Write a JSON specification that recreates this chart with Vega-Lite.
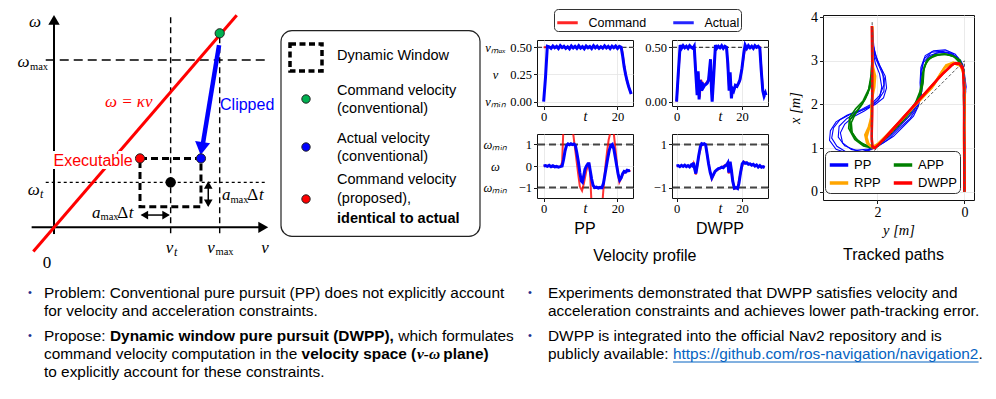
{
"$schema": "https://vega.github.io/schema/vega-lite/v6.json",
"padding": 0,
"background": "white",
"spacing": 1,
"config": {
  "view": {"stroke": null},
  "axis": {"labelFont": "Liberation Serif", "labelFontSize": 12.5, "labelColor": "#000", "tickColor": "#000", "tickSize": 3.5, "tickWidth": 0.9, "domain": false, "gridColor": "#e4e4e4", "gridWidth": 0.8, "titleFont": "Liberation Serif", "titleFontWeight": "normal", "titleColor": "#000", "titleFontSize": 14, "labelPadding": 2},
  "title": {"font": "Liberation Sans", "fontSize": 16, "fontWeight": "normal", "color": "#000"},
  "text": {"font": "Liberation Sans", "color": "#000"}
},
"datasets": {
  "ppv": [
    {"s":"Command","t":0,"v":0.5},{"s":"Command","t":5,"v":0.5},{"s":"Command","t":10,"v":0.5},{"s":"Command","t":15,"v":0.5},{"s":"Command","t":21,"v":0.5},{"s":"Command","t":21.3,"v":0.46},{"s":"Command","t":21.7,"v":0.36},{"s":"Command","t":22.1,"v":0.27},{"s":"Command","t":22.5,"v":0.2},{"s":"Command","t":22.9,"v":0.15},{"s":"Command","t":23.3,"v":0.11},{"s":"Command","t":23.7,"v":0.07},
    {"s":"Actual","t":0,"v":0},{"s":"Actual","t":0.5,"v":0.22},{"s":"Actual","t":1,"v":0.51},{"s":"Actual","t":1.5,"v":0.505},{"s":"Actual","t":2,"v":0.49},{"s":"Actual","t":2.5,"v":0.512},{"s":"Actual","t":3,"v":0.495},{"s":"Actual","t":3.5,"v":0.508},{"s":"Actual","t":4,"v":0.488},{"s":"Actual","t":4.5,"v":0.515},{"s":"Actual","t":5,"v":0.497},{"s":"Actual","t":5.5,"v":0.51},{"s":"Actual","t":6,"v":0.49},{"s":"Actual","t":6.5,"v":0.505},{"s":"Actual","t":7,"v":0.486},{"s":"Actual","t":7.5,"v":0.512},{"s":"Actual","t":8,"v":0.494},{"s":"Actual","t":8.5,"v":0.509},{"s":"Actual","t":9,"v":0.49},{"s":"Actual","t":9.5,"v":0.514},{"s":"Actual","t":10,"v":0.493},{"s":"Actual","t":10.5,"v":0.507},{"s":"Actual","t":11,"v":0.487},{"s":"Actual","t":11.5,"v":0.511},{"s":"Actual","t":12,"v":0.496},{"s":"Actual","t":12.5,"v":0.508},{"s":"Actual","t":13,"v":0.489},{"s":"Actual","t":13.5,"v":0.515},{"s":"Actual","t":14,"v":0.495},{"s":"Actual","t":14.5,"v":0.51},{"s":"Actual","t":15,"v":0.49},{"s":"Actual","t":15.5,"v":0.506},{"s":"Actual","t":16,"v":0.492},{"s":"Actual","t":16.5,"v":0.513},{"s":"Actual","t":17,"v":0.494},{"s":"Actual","t":17.5,"v":0.509},{"s":"Actual","t":18,"v":0.488},{"s":"Actual","t":18.5,"v":0.511},{"s":"Actual","t":19,"v":0.496},{"s":"Actual","t":19.5,"v":0.512},{"s":"Actual","t":20,"v":0.49},{"s":"Actual","t":20.5,"v":0.508},{"s":"Actual","t":21,"v":0.5},{"s":"Actual","t":21.4,"v":0.42},{"s":"Actual","t":21.8,"v":0.32},{"s":"Actual","t":22.2,"v":0.25},{"s":"Actual","t":22.6,"v":0.19},{"s":"Actual","t":23,"v":0.14},{"s":"Actual","t":23.4,"v":0.1},{"s":"Actual","t":23.7,"v":0.07}
  ],
  "ppw": [
    {"s":"Command","t":0,"w":0},{"s":"Command","t":1,"w":0.01},{"s":"Command","t":2,"w":-0.02},{"s":"Command","t":3,"w":-0.03},{"s":"Command","t":4,"w":-0.04},{"s":"Command","t":4.6,"w":-0.02},{"s":"Command","t":5,"w":0.17},{"s":"Command","t":5.3,"w":1.5},{"s":"Command","t":5.6,"w":2.5},{"s":"Command","t":7.7,"w":2.5},{"s":"Command","t":8,"w":1.5},{"s":"Command","t":8.7,"w":0.55},{"s":"Command","t":9.3,"w":-0.3},{"s":"Command","t":9.8,"w":-0.95},{"s":"Command","t":10.4,"w":-1.14},{"s":"Command","t":10.9,"w":-0.8},{"s":"Command","t":11.6,"w":-0.2},{"s":"Command","t":12.3,"w":0.15},{"s":"Command","t":12.6,"w":-0.4},{"s":"Command","t":12.9,"w":-1.5},{"s":"Command","t":13.2,"w":-2.5},{"s":"Command","t":15.7,"w":-2.5},{"s":"Command","t":16,"w":-1.5},{"s":"Command","t":16.4,"w":-0.6},{"s":"Command","t":16.8,"w":0.1},{"s":"Command","t":17.2,"w":0.7},{"s":"Command","t":17.6,"w":1.2},{"s":"Command","t":18,"w":1.5},{"s":"Command","t":18.5,"w":1.65},{"s":"Command","t":19,"w":1.5},{"s":"Command","t":19.5,"w":0.7},{"s":"Command","t":20,"w":-0.2},{"s":"Command","t":20.5,"w":-0.75},{"s":"Command","t":20.9,"w":-0.6},{"s":"Command","t":21.4,"w":-0.4},{"s":"Command","t":21.8,"w":-0.3},{"s":"Command","t":22.4,"w":-0.27},{"s":"Command","t":23,"w":-0.2},{"s":"Command","t":23.5,"w":-0.25},
    {"s":"Actual","t":0,"w":0},{"s":"Actual","t":0.5,"w":0.02},{"s":"Actual","t":1,"w":-0.02},{"s":"Actual","t":1.5,"w":0.03},{"s":"Actual","t":2,"w":-0.03},{"s":"Actual","t":2.5,"w":0.01},{"s":"Actual","t":3,"w":-0.04},{"s":"Actual","t":3.5,"w":-0.02},{"s":"Actual","t":4,"w":-0.05},{"s":"Actual","t":4.5,"w":-0.03},{"s":"Actual","t":5,"w":0},{"s":"Actual","t":5.4,"w":0.3},{"s":"Actual","t":5.8,"w":0.7},{"s":"Actual","t":6.2,"w":0.95},{"s":"Actual","t":6.6,"w":1.02},{"s":"Actual","t":7,"w":0.98},{"s":"Actual","t":7.4,"w":1.03},{"s":"Actual","t":7.8,"w":0.99},{"s":"Actual","t":8.2,"w":1.02},{"s":"Actual","t":8.6,"w":0.95},{"s":"Actual","t":9,"w":0.6},{"s":"Actual","t":9.4,"w":0.2},{"s":"Actual","t":9.8,"w":-0.3},{"s":"Actual","t":10.2,"w":-0.7},{"s":"Actual","t":10.5,"w":-0.75},{"s":"Actual","t":10.8,"w":-0.5},{"s":"Actual","t":11.2,"w":-0.15},{"s":"Actual","t":11.6,"w":0},{"s":"Actual","t":12,"w":0.1},{"s":"Actual","t":12.3,"w":0.1},{"s":"Actual","t":12.6,"w":-0.2},{"s":"Actual","t":13,"w":-0.6},{"s":"Actual","t":13.4,"w":-0.9},{"s":"Actual","t":13.8,"w":-1.0},{"s":"Actual","t":14.3,"w":-0.98},{"s":"Actual","t":14.8,"w":-1.02},{"s":"Actual","t":15.3,"w":-0.99},{"s":"Actual","t":15.8,"w":-1.0},{"s":"Actual","t":16.2,"w":-0.8},{"s":"Actual","t":16.6,"w":-0.4},{"s":"Actual","t":17,"w":0},{"s":"Actual","t":17.4,"w":0.4},{"s":"Actual","t":17.8,"w":0.75},{"s":"Actual","t":18.2,"w":0.95},{"s":"Actual","t":18.6,"w":1.0},{"s":"Actual","t":19,"w":0.8},{"s":"Actual","t":19.4,"w":0.4},{"s":"Actual","t":19.8,"w":0},{"s":"Actual","t":20.2,"w":-0.4},{"s":"Actual","t":20.6,"w":-0.65},{"s":"Actual","t":21,"w":-0.55},{"s":"Actual","t":21.4,"w":-0.35},{"s":"Actual","t":21.8,"w":-0.25},{"s":"Actual","t":22.2,"w":-0.28},{"s":"Actual","t":22.6,"w":-0.2},{"s":"Actual","t":23,"w":-0.22},{"s":"Actual","t":23.4,"w":-0.2}
  ],
  "dwv": [
    {"s":"Command","t":0,"v":0},{"s":"Command","t":1.1,"v":0.5},{"s":"Command","t":5.4,"v":0.5},{"s":"Command","t":6.3,"v":0.08},{"s":"Command","t":6.7,"v":0.26},{"s":"Command","t":7.1,"v":0.04},{"s":"Command","t":7.5,"v":0.2},{"s":"Command","t":8.2,"v":0.14},{"s":"Command","t":9.8,"v":0.2},{"s":"Command","t":10.4,"v":0.37},{"s":"Command","t":10.9,"v":0.02},{"s":"Command","t":11.9,"v":0.5},{"s":"Command","t":15.3,"v":0.5},{"s":"Command","t":16.1,"v":0.12},{"s":"Command","t":16.4,"v":0.25},{"s":"Command","t":16.8,"v":0.05},{"s":"Command","t":17.5,"v":0.11},{"s":"Command","t":19.4,"v":0.19},{"s":"Command","t":21,"v":0.5},{"s":"Command","t":25.5,"v":0.5},{"s":"Command","t":26.4,"v":0.12},{"s":"Command","t":26.8,"v":0.06},{"s":"Command","t":27.2,"v":0.08},
    {"s":"Actual","t":0,"v":0},{"s":"Actual","t":0.5,"v":0.25},{"s":"Actual","t":1.1,"v":0.52},{"s":"Actual","t":1.5,"v":0.49},{"s":"Actual","t":2,"v":0.515},{"s":"Actual","t":2.5,"v":0.495},{"s":"Actual","t":3,"v":0.51},{"s":"Actual","t":3.5,"v":0.49},{"s":"Actual","t":4,"v":0.515},{"s":"Actual","t":4.5,"v":0.5},{"s":"Actual","t":5,"v":0.49},{"s":"Actual","t":5.4,"v":0.51},{"s":"Actual","t":5.8,"v":0.3},{"s":"Actual","t":6.3,"v":0.06},{"s":"Actual","t":6.6,"v":0.28},{"s":"Actual","t":6.9,"v":0.02},{"s":"Actual","t":7.2,"v":0.2},{"s":"Actual","t":7.5,"v":0.1},{"s":"Actual","t":7.8,"v":0.18},{"s":"Actual","t":8.2,"v":0.13},{"s":"Actual","t":8.6,"v":0.15},{"s":"Actual","t":9,"v":0.16},{"s":"Actual","t":9.4,"v":0.17},{"s":"Actual","t":9.8,"v":0.2},{"s":"Actual","t":10.2,"v":0.33},{"s":"Actual","t":10.4,"v":0.39},{"s":"Actual","t":10.7,"v":0.1},{"s":"Actual","t":10.9,"v":0},{"s":"Actual","t":11.4,"v":0.25},{"s":"Actual","t":11.9,"v":0.52},{"s":"Actual","t":12.3,"v":0.49},{"s":"Actual","t":12.8,"v":0.51},{"s":"Actual","t":13.3,"v":0.495},{"s":"Actual","t":13.8,"v":0.515},{"s":"Actual","t":14.3,"v":0.49},{"s":"Actual","t":14.8,"v":0.51},{"s":"Actual","t":15.3,"v":0.5},{"s":"Actual","t":15.7,"v":0.35},{"s":"Actual","t":16.1,"v":0.1},{"s":"Actual","t":16.4,"v":0.27},{"s":"Actual","t":16.8,"v":0.03},{"s":"Actual","t":17.1,"v":0.12},{"s":"Actual","t":17.5,"v":0.1},{"s":"Actual","t":18,"v":0.15},{"s":"Actual","t":18.5,"v":0.14},{"s":"Actual","t":19,"v":0.17},{"s":"Actual","t":19.4,"v":0.2},{"s":"Actual","t":20,"v":0.3},{"s":"Actual","t":20.6,"v":0.45},{"s":"Actual","t":21,"v":0.52},{"s":"Actual","t":21.5,"v":0.49},{"s":"Actual","t":22,"v":0.515},{"s":"Actual","t":22.5,"v":0.495},{"s":"Actual","t":23,"v":0.51},{"s":"Actual","t":23.5,"v":0.49},{"s":"Actual","t":24,"v":0.515},{"s":"Actual","t":24.5,"v":0.5},{"s":"Actual","t":25,"v":0.51},{"s":"Actual","t":25.5,"v":0.49},{"s":"Actual","t":25.9,"v":0.3},{"s":"Actual","t":26.4,"v":0.1},{"s":"Actual","t":26.8,"v":0.05},{"s":"Actual","t":27.2,"v":0.08},{"s":"Actual","t":27.4,"v":0.06}
  ],
  "dww": [
    {"s":"Command","t":0,"w":0},{"s":"Command","t":4.9,"w":0},{"s":"Command","t":5.2,"w":0.12},{"s":"Command","t":5.9,"w":-0.4},{"s":"Command","t":6.8,"w":0.45},{"s":"Command","t":7.7,"w":1.0},{"s":"Command","t":8.9,"w":1.0},{"s":"Command","t":9.8,"w":0.1},{"s":"Command","t":10.8,"w":-0.6},{"s":"Command","t":11.8,"w":-0.25},{"s":"Command","t":13.8,"w":-0.06},{"s":"Command","t":15.7,"w":0.12},{"s":"Command","t":16,"w":-0.35},{"s":"Command","t":16.4,"w":0.18},{"s":"Command","t":17.2,"w":-0.7},{"s":"Command","t":17.7,"w":-1.05},{"s":"Command","t":18.7,"w":-1.0},{"s":"Command","t":19.6,"w":-0.3},{"s":"Command","t":20.5,"w":0.2},{"s":"Command","t":23,"w":0.05},{"s":"Command","t":27,"w":-0.05},
    {"s":"Actual","t":0,"w":0},{"s":"Actual","t":0.5,"w":0.02},{"s":"Actual","t":1,"w":-0.03},{"s":"Actual","t":1.5,"w":0.03},{"s":"Actual","t":2,"w":-0.02},{"s":"Actual","t":2.5,"w":0.04},{"s":"Actual","t":3,"w":-0.03},{"s":"Actual","t":3.5,"w":0.02},{"s":"Actual","t":4,"w":-0.04},{"s":"Actual","t":4.5,"w":0.05},{"s":"Actual","t":4.9,"w":0},{"s":"Actual","t":5.2,"w":0.15},{"s":"Actual","t":5.5,"w":-0.1},{"s":"Actual","t":5.9,"w":-0.35},{"s":"Actual","t":6.3,"w":0},{"s":"Actual","t":6.8,"w":0.5},{"s":"Actual","t":7.3,"w":0.9},{"s":"Actual","t":7.7,"w":1.03},{"s":"Actual","t":8.1,"w":1.0},{"s":"Actual","t":8.5,"w":1.03},{"s":"Actual","t":8.9,"w":0.98},{"s":"Actual","t":9.3,"w":0.6},{"s":"Actual","t":9.8,"w":0.1},{"s":"Actual","t":10.3,"w":-0.3},{"s":"Actual","t":10.8,"w":-0.55},{"s":"Actual","t":11.3,"w":-0.4},{"s":"Actual","t":11.8,"w":-0.25},{"s":"Actual","t":12.3,"w":-0.18},{"s":"Actual","t":12.8,"w":-0.12},{"s":"Actual","t":13.3,"w":-0.1},{"s":"Actual","t":13.8,"w":-0.05},{"s":"Actual","t":14.3,"w":-0.08},{"s":"Actual","t":14.8,"w":0},{"s":"Actual","t":15.3,"w":0.05},{"s":"Actual","t":15.7,"w":0.15},{"s":"Actual","t":16,"w":-0.3},{"s":"Actual","t":16.4,"w":0.2},{"s":"Actual","t":16.8,"w":-0.2},{"s":"Actual","t":17.2,"w":-0.7},{"s":"Actual","t":17.7,"w":-1.03},{"s":"Actual","t":18.2,"w":-1.0},{"s":"Actual","t":18.7,"w":-1.04},{"s":"Actual","t":19.1,"w":-0.8},{"s":"Actual","t":19.6,"w":-0.3},{"s":"Actual","t":20.1,"w":0.1},{"s":"Actual","t":20.5,"w":0.18},{"s":"Actual","t":21,"w":0.12},{"s":"Actual","t":21.5,"w":0.15},{"s":"Actual","t":22,"w":0.08},{"s":"Actual","t":22.5,"w":0.1},{"s":"Actual","t":23,"w":0.04},{"s":"Actual","t":23.5,"w":0.08},{"s":"Actual","t":24,"w":0},{"s":"Actual","t":24.5,"w":0.05},{"s":"Actual","t":25,"w":-0.05},{"s":"Actual","t":25.5,"w":0.02},{"s":"Actual","t":26,"w":-0.06},{"s":"Actual","t":26.5,"w":-0.03},{"s":"Actual","t":27,"w":-0.06}
  ],
  "paths": [
    {"m":"PP","r":"PP1","y":0,"x":0},{"m":"PP","r":"PP1","y":0.01,"x":0.8},{"m":"PP","r":"PP1","y":0,"x":1.6},{"m":"PP","r":"PP1","y":0.02,"x":2.1},{"m":"PP","r":"PP1","y":-0.04,"x":2.4},{"m":"PP","r":"PP1","y":0,"x":2.7},{"m":"PP","r":"PP1","y":0.04,"x":2.92},{"m":"PP","r":"PP1","y":0.21,"x":3.15},{"m":"PP","r":"PP1","y":0.44,"x":3.25},{"m":"PP","r":"PP1","y":0.71,"x":3.23},{"m":"PP","r":"PP1","y":0.9,"x":3.12},{"m":"PP","r":"PP1","y":1.0,"x":2.85},{"m":"PP","r":"PP1","y":1.02,"x":2.5},{"m":"PP","r":"PP1","y":1.0,"x":2.19},{"m":"PP","r":"PP1","y":1.06,"x":1.96},{"m":"PP","r":"PP1","y":1.17,"x":1.73},{"m":"PP","r":"PP1","y":1.4,"x":1.5},{"m":"PP","r":"PP1","y":1.63,"x":1.27},{"m":"PP","r":"PP1","y":1.86,"x":1.12},{"m":"PP","r":"PP1","y":2.09,"x":1.0},{"m":"PP","r":"PP1","y":2.4,"x":0.88},{"m":"PP","r":"PP1","y":2.7,"x":0.9},{"m":"PP","r":"PP1","y":2.93,"x":1.04},{"m":"PP","r":"PP1","y":3.05,"x":1.23},{"m":"PP","r":"PP1","y":3.01,"x":1.46},{"m":"PP","r":"PP1","y":2.86,"x":1.65},{"m":"PP","r":"PP1","y":2.63,"x":1.77},{"m":"PP","r":"PP1","y":2.32,"x":1.88},{"m":"PP","r":"PP1","y":2.05,"x":2.0},{"m":"PP","r":"PP1","y":1.86,"x":2.15},{"m":"PP","r":"PP1","y":1.79,"x":2.38},{"m":"PP","r":"PP1","y":1.82,"x":2.65},{"m":"PP","r":"PP1","y":1.94,"x":2.88},{"m":"PP","r":"PP1","y":2.05,"x":3.15},{"m":"PP","r":"PP1","y":2.09,"x":3.35},{"m":"PP","r":"PP1","y":2.11,"x":3.73},
    {"m":"PP","r":"PP2","y":0,"x":0},{"m":"PP","r":"PP2","y":0,"x":1.0},{"m":"PP","r":"PP2","y":0.02,"x":1.8},{"m":"PP","r":"PP2","y":-0.03,"x":2.3},{"m":"PP","r":"PP2","y":0.01,"x":2.75},{"m":"PP","r":"PP2","y":0.08,"x":3.0},{"m":"PP","r":"PP2","y":0.3,"x":3.18},{"m":"PP","r":"PP2","y":0.55,"x":3.2},{"m":"PP","r":"PP2","y":0.8,"x":3.12},{"m":"PP","r":"PP2","y":0.95,"x":2.95},{"m":"PP","r":"PP2","y":1.0,"x":2.6},{"m":"PP","r":"PP2","y":0.98,"x":2.3},{"m":"PP","r":"PP2","y":1.04,"x":2.05},{"m":"PP","r":"PP2","y":1.2,"x":1.8},{"m":"PP","r":"PP2","y":1.45,"x":1.55},{"m":"PP","r":"PP2","y":1.7,"x":1.3},{"m":"PP","r":"PP2","y":1.95,"x":1.1},{"m":"PP","r":"PP2","y":2.2,"x":0.98},{"m":"PP","r":"PP2","y":2.5,"x":0.95},{"m":"PP","r":"PP2","y":2.75,"x":1.05},{"m":"PP","r":"PP2","y":2.9,"x":1.25},{"m":"PP","r":"PP2","y":2.88,"x":1.5},{"m":"PP","r":"PP2","y":2.7,"x":1.68},{"m":"PP","r":"PP2","y":2.45,"x":1.82},{"m":"PP","r":"PP2","y":2.2,"x":1.95},{"m":"PP","r":"PP2","y":1.98,"x":2.1},{"m":"PP","r":"PP2","y":1.85,"x":2.3},{"m":"PP","r":"PP2","y":1.84,"x":2.6},{"m":"PP","r":"PP2","y":1.95,"x":2.85},{"m":"PP","r":"PP2","y":2.06,"x":3.1},{"m":"PP","r":"PP2","y":2.1,"x":3.4},{"m":"PP","r":"PP2","y":2.11,"x":3.7},
    {"m":"PP","r":"PP3","y":0,"x":0},{"m":"PP","r":"PP3","y":0.02,"x":1.2},{"m":"PP","r":"PP3","y":-0.02,"x":2.0},{"m":"PP","r":"PP3","y":0.03,"x":2.5},{"m":"PP","r":"PP3","y":0.02,"x":2.85},{"m":"PP","r":"PP3","y":0.15,"x":3.08},{"m":"PP","r":"PP3","y":0.4,"x":3.2},{"m":"PP","r":"PP3","y":0.65,"x":3.18},{"m":"PP","r":"PP3","y":0.85,"x":3.05},{"m":"PP","r":"PP3","y":0.94,"x":2.8},{"m":"PP","r":"PP3","y":0.96,"x":2.45},{"m":"PP","r":"PP3","y":1.0,"x":2.2},{"m":"PP","r":"PP3","y":1.12,"x":1.95},{"m":"PP","r":"PP3","y":1.3,"x":1.7},{"m":"PP","r":"PP3","y":1.55,"x":1.45},{"m":"PP","r":"PP3","y":1.8,"x":1.2},{"m":"PP","r":"PP3","y":2.05,"x":1.02},{"m":"PP","r":"PP3","y":2.35,"x":0.92},{"m":"PP","r":"PP3","y":2.6,"x":0.97},{"m":"PP","r":"PP3","y":2.8,"x":1.12},{"m":"PP","r":"PP3","y":2.85,"x":1.35},{"m":"PP","r":"PP3","y":2.75,"x":1.55},{"m":"PP","r":"PP3","y":2.55,"x":1.72},{"m":"PP","r":"PP3","y":2.3,"x":1.85},{"m":"PP","r":"PP3","y":2.1,"x":1.98},{"m":"PP","r":"PP3","y":1.95,"x":2.15},{"m":"PP","r":"PP3","y":1.9,"x":2.4},{"m":"PP","r":"PP3","y":1.95,"x":2.7},{"m":"PP","r":"PP3","y":2.05,"x":2.95},{"m":"PP","r":"PP3","y":2.1,"x":3.25},{"m":"PP","r":"PP3","y":2.12,"x":3.6},{"m":"PP","r":"PP3","y":2.11,"x":3.75},
    {"m":"PP","r":"PP4","y":0,"x":0},{"m":"PP","r":"PP4","y":0,"x":1.5},{"m":"PP","r":"PP4","y":0.02,"x":2.2},{"m":"PP","r":"PP4","y":0,"x":2.6},{"m":"PP","r":"PP4","y":0.05,"x":2.9},{"m":"PP","r":"PP4","y":0.25,"x":3.12},{"m":"PP","r":"PP4","y":0.5,"x":3.22},{"m":"PP","r":"PP4","y":0.75,"x":3.2},{"m":"PP","r":"PP4","y":0.92,"x":3.05},{"m":"PP","r":"PP4","y":1.0,"x":2.75},{"m":"PP","r":"PP4","y":1.0,"x":2.4},{"m":"PP","r":"PP4","y":1.02,"x":2.15},{"m":"PP","r":"PP4","y":1.1,"x":1.9},{"m":"PP","r":"PP4","y":1.25,"x":1.68},{"m":"PP","r":"PP4","y":1.5,"x":1.45},{"m":"PP","r":"PP4","y":1.75,"x":1.2},{"m":"PP","r":"PP4","y":2.0,"x":1.03},{"m":"PP","r":"PP4","y":2.3,"x":0.9},{"m":"PP","r":"PP4","y":2.65,"x":0.87},{"m":"PP","r":"PP4","y":2.95,"x":0.97},{"m":"PP","r":"PP4","y":3.1,"x":1.18},{"m":"PP","r":"PP4","y":3.08,"x":1.4},{"m":"PP","r":"PP4","y":2.95,"x":1.6},{"m":"PP","r":"PP4","y":2.7,"x":1.75},{"m":"PP","r":"PP4","y":2.4,"x":1.87},{"m":"PP","r":"PP4","y":2.15,"x":2.0},{"m":"PP","r":"PP4","y":1.95,"x":2.2},{"m":"PP","r":"PP4","y":1.85,"x":2.45},{"m":"PP","r":"PP4","y":1.88,"x":2.75},{"m":"PP","r":"PP4","y":2.0,"x":3.0},{"m":"PP","r":"PP4","y":2.08,"x":3.3},{"m":"PP","r":"PP4","y":2.12,"x":3.8},
    {"m":"APP","r":"APP1","y":0,"x":0},{"m":"APP","r":"APP1","y":0.01,"x":1.5},{"m":"APP","r":"APP1","y":0,"x":2.4},{"m":"APP","r":"APP1","y":0.03,"x":2.75},{"m":"APP","r":"APP1","y":0.1,"x":3.02},{"m":"APP","r":"APP1","y":0.3,"x":3.13},{"m":"APP","r":"APP1","y":0.5,"x":3.15},{"m":"APP","r":"APP1","y":0.7,"x":3.12},{"m":"APP","r":"APP1","y":0.88,"x":2.98},{"m":"APP","r":"APP1","y":0.96,"x":2.72},{"m":"APP","r":"APP1","y":0.98,"x":2.45},{"m":"APP","r":"APP1","y":1.05,"x":2.15},{"m":"APP","r":"APP1","y":1.25,"x":1.82},{"m":"APP","r":"APP1","y":1.48,"x":1.55},{"m":"APP","r":"APP1","y":1.78,"x":1.27},{"m":"APP","r":"APP1","y":1.98,"x":1.07},{"m":"APP","r":"APP1","y":2.15,"x":1.03},{"m":"APP","r":"APP1","y":2.35,"x":1.1},{"m":"APP","r":"APP1","y":2.5,"x":1.22},{"m":"APP","r":"APP1","y":2.62,"x":1.42},{"m":"APP","r":"APP1","y":2.63,"x":1.65},{"m":"APP","r":"APP1","y":2.45,"x":1.88},{"m":"APP","r":"APP1","y":2.28,"x":2.12},{"m":"APP","r":"APP1","y":2.17,"x":2.38},{"m":"APP","r":"APP1","y":2.13,"x":2.73},{"m":"APP","r":"APP1","y":2.12,"x":3.2},{"m":"APP","r":"APP1","y":2.12,"x":3.78},
    {"m":"APP","r":"APP2","y":0,"x":0},{"m":"APP","r":"APP2","y":0,"x":1.2},{"m":"APP","r":"APP2","y":0.02,"x":2.2},{"m":"APP","r":"APP2","y":0,"x":2.6},{"m":"APP","r":"APP2","y":0.06,"x":2.92},{"m":"APP","r":"APP2","y":0.25,"x":3.1},{"m":"APP","r":"APP2","y":0.45,"x":3.16},{"m":"APP","r":"APP2","y":0.68,"x":3.14},{"m":"APP","r":"APP2","y":0.85,"x":3.03},{"m":"APP","r":"APP2","y":0.93,"x":2.8},{"m":"APP","r":"APP2","y":0.95,"x":2.5},{"m":"APP","r":"APP2","y":1.0,"x":2.25},{"m":"APP","r":"APP2","y":1.15,"x":1.95},{"m":"APP","r":"APP2","y":1.35,"x":1.7},{"m":"APP","r":"APP2","y":1.6,"x":1.45},{"m":"APP","r":"APP2","y":1.85,"x":1.2},{"m":"APP","r":"APP2","y":2.05,"x":1.05},{"m":"APP","r":"APP2","y":2.25,"x":1.05},{"m":"APP","r":"APP2","y":2.45,"x":1.17},{"m":"APP","r":"APP2","y":2.58,"x":1.35},{"m":"APP","r":"APP2","y":2.6,"x":1.58},{"m":"APP","r":"APP2","y":2.5,"x":1.8},{"m":"APP","r":"APP2","y":2.35,"x":2.0},{"m":"APP","r":"APP2","y":2.22,"x":2.25},{"m":"APP","r":"APP2","y":2.15,"x":2.55},{"m":"APP","r":"APP2","y":2.13,"x":2.9},{"m":"APP","r":"APP2","y":2.12,"x":3.4},{"m":"APP","r":"APP2","y":2.12,"x":3.75},
    {"m":"APP","r":"APP3","y":0,"x":0},{"m":"APP","r":"APP3","y":0.01,"x":1.8},{"m":"APP","r":"APP3","y":0.01,"x":2.5},{"m":"APP","r":"APP3","y":0.04,"x":2.85},{"m":"APP","r":"APP3","y":0.2,"x":3.08},{"m":"APP","r":"APP3","y":0.42,"x":3.15},{"m":"APP","r":"APP3","y":0.62,"x":3.13},{"m":"APP","r":"APP3","y":0.8,"x":3.06},{"m":"APP","r":"APP3","y":0.92,"x":2.88},{"m":"APP","r":"APP3","y":0.97,"x":2.6},{"m":"APP","r":"APP3","y":1.02,"x":2.3},{"m":"APP","r":"APP3","y":1.12,"x":2.05},{"m":"APP","r":"APP3","y":1.3,"x":1.78},{"m":"APP","r":"APP3","y":1.52,"x":1.52},{"m":"APP","r":"APP3","y":1.75,"x":1.28},{"m":"APP","r":"APP3","y":1.95,"x":1.1},{"m":"APP","r":"APP3","y":2.12,"x":1.0},{"m":"APP","r":"APP3","y":2.32,"x":1.05},{"m":"APP","r":"APP3","y":2.52,"x":1.2},{"m":"APP","r":"APP3","y":2.66,"x":1.45},{"m":"APP","r":"APP3","y":2.64,"x":1.7},{"m":"APP","r":"APP3","y":2.5,"x":1.9},{"m":"APP","r":"APP3","y":2.33,"x":2.08},{"m":"APP","r":"APP3","y":2.2,"x":2.35},{"m":"APP","r":"APP3","y":2.14,"x":2.7},{"m":"APP","r":"APP3","y":2.12,"x":3.1},{"m":"APP","r":"APP3","y":2.12,"x":3.6},
    {"m":"RPP","r":"RPP1","y":0,"x":0},{"m":"RPP","r":"RPP1","y":0,"x":1.5},{"m":"RPP","r":"RPP1","y":-0.01,"x":2.3},{"m":"RPP","r":"RPP1","y":0.02,"x":2.75},{"m":"RPP","r":"RPP1","y":0.1,"x":2.9},{"m":"RPP","r":"RPP1","y":0.28,"x":2.95},{"m":"RPP","r":"RPP1","y":0.45,"x":2.85},{"m":"RPP","r":"RPP1","y":0.6,"x":2.62},{"m":"RPP","r":"RPP1","y":0.75,"x":2.38},{"m":"RPP","r":"RPP1","y":1.0,"x":2.12},{"m":"RPP","r":"RPP1","y":1.4,"x":1.7},{"m":"RPP","r":"RPP1","y":1.8,"x":1.28},{"m":"RPP","r":"RPP1","y":2.0,"x":1.08},{"m":"RPP","r":"RPP1","y":2.12,"x":1.02},{"m":"RPP","r":"RPP1","y":2.24,"x":1.12},{"m":"RPP","r":"RPP1","y":2.28,"x":1.3},{"m":"RPP","r":"RPP1","y":2.2,"x":1.48},{"m":"RPP","r":"RPP1","y":2.14,"x":1.7},{"m":"RPP","r":"RPP1","y":2.13,"x":2.1},{"m":"RPP","r":"RPP1","y":2.07,"x":2.4},{"m":"RPP","r":"RPP1","y":2.05,"x":2.65},{"m":"RPP","r":"RPP1","y":2.1,"x":2.85},{"m":"RPP","r":"RPP1","y":2.12,"x":3.2},{"m":"RPP","r":"RPP1","y":2.12,"x":3.8},
    {"m":"RPP","r":"RPP2","y":0,"x":0},{"m":"RPP","r":"RPP2","y":0.01,"x":1.2},{"m":"RPP","r":"RPP2","y":0,"x":2.2},{"m":"RPP","r":"RPP2","y":0.02,"x":2.7},{"m":"RPP","r":"RPP2","y":0.08,"x":2.88},{"m":"RPP","r":"RPP2","y":0.25,"x":2.96},{"m":"RPP","r":"RPP2","y":0.42,"x":2.9},{"m":"RPP","r":"RPP2","y":0.55,"x":2.7},{"m":"RPP","r":"RPP2","y":0.7,"x":2.45},{"m":"RPP","r":"RPP2","y":0.95,"x":2.18},{"m":"RPP","r":"RPP2","y":1.35,"x":1.75},{"m":"RPP","r":"RPP2","y":1.75,"x":1.32},{"m":"RPP","r":"RPP2","y":1.98,"x":1.1},{"m":"RPP","r":"RPP2","y":2.1,"x":1.03},{"m":"RPP","r":"RPP2","y":2.2,"x":1.08},{"m":"RPP","r":"RPP2","y":2.25,"x":1.25},{"m":"RPP","r":"RPP2","y":2.2,"x":1.42},{"m":"RPP","r":"RPP2","y":2.15,"x":1.6},{"m":"RPP","r":"RPP2","y":2.13,"x":2.0},{"m":"RPP","r":"RPP2","y":2.1,"x":2.5},{"m":"RPP","r":"RPP2","y":2.12,"x":3.0},{"m":"RPP","r":"RPP2","y":2.12,"x":3.8},
    {"m":"DWPP","r":"DW1","y":0,"x":0},{"m":"DWPP","r":"DW1","y":0,"x":1.0},{"m":"DWPP","r":"DW1","y":0.01,"x":2.0},{"m":"DWPP","r":"DW1","y":0.02,"x":2.6},{"m":"DWPP","r":"DW1","y":0.04,"x":2.85},{"m":"DWPP","r":"DW1","y":0.1,"x":2.93},{"m":"DWPP","r":"DW1","y":0.2,"x":2.95},{"m":"DWPP","r":"DW1","y":0.3,"x":2.9},{"m":"DWPP","r":"DW1","y":0.6,"x":2.6},{"m":"DWPP","r":"DW1","y":1.0,"x":2.15},{"m":"DWPP","r":"DW1","y":1.4,"x":1.7},{"m":"DWPP","r":"DW1","y":1.8,"x":1.25},{"m":"DWPP","r":"DW1","y":2.0,"x":1.05},{"m":"DWPP","r":"DW1","y":2.07,"x":1.0},{"m":"DWPP","r":"DW1","y":2.12,"x":1.05},{"m":"DWPP","r":"DW1","y":2.13,"x":1.3},{"m":"DWPP","r":"DW1","y":2.12,"x":2.0},{"m":"DWPP","r":"DW1","y":2.12,"x":3.0},{"m":"DWPP","r":"DW1","y":2.13,"x":3.8},
    {"m":"DWPP","r":"DW2","y":0,"x":0},{"m":"DWPP","r":"DW2","y":0.01,"x":1.5},{"m":"DWPP","r":"DW2","y":0,"x":2.4},{"m":"DWPP","r":"DW2","y":0.03,"x":2.8},{"m":"DWPP","r":"DW2","y":0.12,"x":2.94},{"m":"DWPP","r":"DW2","y":0.25,"x":2.93},{"m":"DWPP","r":"DW2","y":0.5,"x":2.7},{"m":"DWPP","r":"DW2","y":0.9,"x":2.26},{"m":"DWPP","r":"DW2","y":1.3,"x":1.82},{"m":"DWPP","r":"DW2","y":1.7,"x":1.38},{"m":"DWPP","r":"DW2","y":1.95,"x":1.1},{"m":"DWPP","r":"DW2","y":2.05,"x":1.01},{"m":"DWPP","r":"DW2","y":2.11,"x":1.02},{"m":"DWPP","r":"DW2","y":2.13,"x":1.2},{"m":"DWPP","r":"DW2","y":2.12,"x":1.8},{"m":"DWPP","r":"DW2","y":2.12,"x":2.8},{"m":"DWPP","r":"DW2","y":2.12,"x":3.78}
  ]
},
"vconcat": [
  {
    "spacing": 1,
    "resolve": {"scale": {"color": "independent", "fill": "independent", "shape": "independent"}, "legend": {"color": "independent"}},
    "hconcat": [
      {
        "width": 279, "height": 270,
        "view": {"fill": "transparent", "stroke": null},
        "encoding": {
          "x": {"field": "v", "type": "quantitative", "scale": {"domain": [-0.326, 1.358], "nice": false, "zero": false}, "axis": null},
          "y": {"field": "w", "type": "quantitative", "scale": {"domain": [-0.255, 1.359], "nice": false, "zero": false}, "axis": null}
        },
        "layer": [
          {"data": {"values": [{"v": -0.05, "w": 1.0, "v2": 1.273, "w2": 1.0}]}, "mark": {"type": "rule", "color": "#000", "strokeWidth": 1.5, "strokeDash": [9, 5]}, "encoding": {"x2": {"field": "v2"}, "y2": {"field": "w2"}}},
          {"data": {"values": [{"v": 0.704, "w": -0.035, "v2": 0.704, "w2": 1.269}, {"v": 1.0, "w": -0.035, "v2": 1.0, "w2": 1.16}]}, "mark": {"type": "rule", "color": "#000", "strokeWidth": 1.4, "strokeDash": [6, 4]}, "encoding": {"x2": {"field": "v2"}, "y2": {"field": "w2"}}},
          {"data": {"values": [{"v": -0.05, "w": 0.269, "v2": 1.273, "w2": 0.269}]}, "mark": {"type": "rule", "color": "#000", "strokeWidth": 1.2, "strokeDash": [3, 3]}, "encoding": {"x2": {"field": "v2"}, "y2": {"field": "w2"}}},
          {"data": {"values": [{"v": 0, "w": -0.04, "v2": 0, "w2": 1.24}, {"v": -0.135, "w": 0, "v2": 1.263, "w2": 0}]}, "mark": {"type": "rule", "color": "#000", "strokeWidth": 2}, "encoding": {"x2": {"field": "v2"}, "y2": {"field": "w2"}}},
          {"data": {"values": [{"v": 0, "w": 1.24, "d": "up"}, {"v": 1.263, "w": 0, "d": "right"}]}, "mark": {"type": "point", "filled": true, "color": "#000", "size": 130, "opacity": 1}, "encoding": {"shape": {"field": "d", "type": "nominal", "scale": {"domain": ["up", "down", "left", "right"], "range": ["triangle-up", "triangle-down", "triangle-left", "triangle-right"]}, "legend": null}}},
          {"data": {"values": [{"v": -0.125, "w": -0.144, "v2": 1.103, "w2": 1.268}]}, "mark": {"type": "rule", "color": "#ff0000", "strokeWidth": 3}, "encoding": {"x2": {"field": "v2"}, "y2": {"field": "w2"}}},
          {"data": {"values": [{"v": 0.519, "w": 0.123, "v2": 0.887, "w2": 0.412}]}, "mark": {"type": "rect", "fillOpacity": 0, "stroke": "#000", "strokeWidth": 3, "strokeDash": [7, 4]}, "encoding": {"x2": {"field": "v2"}, "y2": {"field": "w2"}}},
          {"data": {"values": [{"v": 0.9963, "w": 1.089, "v2": 0.897, "w2": 0.49}]}, "mark": {"type": "rule", "color": "#0000ff", "strokeWidth": 4.5}, "encoding": {"x2": {"field": "v2"}, "y2": {"field": "w2"}}},
          {"data": {"values": [{"v": 0.891, "w": 0.471, "d": "down"}]}, "mark": {"type": "point", "filled": true, "color": "#0000ff", "size": 230, "opacity": 1, "angle": 8.8}, "encoding": {"shape": {"field": "d", "type": "nominal", "legend": null}}},
          {"data": {"values": [{"v": 0.53, "w": 0.0735, "v2": 0.69, "w2": 0.0735}, {"v": 0.931, "w": 0.13, "v2": 0.931, "w2": 0.26}]}, "mark": {"type": "rule", "color": "#000", "strokeWidth": 1.5}, "encoding": {"x2": {"field": "v2"}, "y2": {"field": "w2"}}},
          {"data": {"values": [{"v": 0.5455, "w": 0.0735, "d": "left"}, {"v": 0.6765, "w": 0.0735, "d": "right"}, {"v": 0.931, "w": 0.2534, "d": "up"}, {"v": 0.931, "w": 0.1447, "d": "down"}]}, "mark": {"type": "point", "filled": true, "color": "#000", "size": 75, "opacity": 1}, "encoding": {"shape": {"field": "d", "type": "nominal", "legend": null}}},
          {"data": {"values": [{"v": 1.0, "w": 1.16, "k": "cmd"}, {"v": 0.887, "w": 0.412, "k": "act"}, {"v": 0.519, "w": 0.412, "k": "prop"}]}, "mark": {"type": "circle", "size": 85, "stroke": "#222", "strokeWidth": 1, "opacity": 1}, "encoding": {"fill": {"field": "k", "type": "nominal", "scale": {"domain": ["cmd", "act", "prop"], "range": ["#00b050", "#0000ff", "#ff0000"]}, "legend": null}}},
          {"data": {"values": [{"v": 0.704, "w": 0.269}]}, "mark": {"type": "circle", "size": 110, "color": "#000", "opacity": 1}},
          {"data": {"values": [{"v": -0.115, "w": 1.225, "s": "ω"}, {"v": -0.184, "w": 0.988, "s": "ω"}, {"v": -0.122, "w": 0.223, "s": "ω"}, {"v": 0.697, "w": -0.124, "s": "v"}, {"v": 0.947, "w": -0.124, "s": "v"}, {"v": 1.273, "w": -0.124, "s": "v"}, {"v": 0.2555, "w": 0.0837, "s": "a"}, {"v": 1.04, "w": 0.193, "s": "a"}, {"v": 0.466, "w": 0.0837, "s": "t"}, {"v": 1.251, "w": 0.193, "s": "t"}]}, "mark": {"type": "text", "font": "Liberation Serif", "fontStyle": "italic", "fontSize": 17, "align": "center", "baseline": "middle"}, "encoding": {"text": {"field": "s"}}},
          {"data": {"values": [{"v": -0.145, "w": 0.958, "s": "max"}, {"v": 0.9747, "w": -0.148, "s": "max"}, {"v": 0.2806, "w": 0.06, "s": "max"}, {"v": 1.065, "w": 0.163, "s": "max"}]}, "mark": {"type": "text", "font": "Liberation Serif", "fontSize": 10.5, "align": "left", "baseline": "middle"}, "encoding": {"text": {"field": "s"}}},
          {"data": {"values": [{"v": -0.0845, "w": 0.199, "s": "t"}, {"v": 0.724, "w": -0.148, "s": "t"}]}, "mark": {"type": "text", "font": "Liberation Serif", "fontStyle": "italic", "fontSize": 12, "align": "left", "baseline": "middle"}, "encoding": {"text": {"field": "s"}}},
          {"data": {"values": [{"v": 0.382, "w": 0.0837, "s": "Δ"}, {"v": 1.167, "w": 0.193, "s": "Δ"}, {"v": -0.068, "w": -0.214, "s": "0"}]}, "mark": {"type": "text", "font": "Liberation Serif", "fontSize": 17, "align": "left", "baseline": "middle"}, "encoding": {"text": {"field": "s"}}},
          {"data": {"values": [{"v": 0.451, "w": 0.751, "s": "ω = κv"}]}, "mark": {"type": "text", "font": "Liberation Serif", "fontStyle": "italic", "fontSize": 17, "color": "#ff0000", "align": "center", "baseline": "middle"}, "encoding": {"text": {"field": "s"}}},
          {"data": {"values": [{"v": 1.002, "w": 0.731, "s": "Clipped"}]}, "mark": {"type": "text", "font": "Liberation Sans", "fontSize": 16, "color": "#0000ff", "align": "left", "baseline": "middle"}, "encoding": {"text": {"field": "s"}}},
          {"data": {"values": [{"v": 0.475, "w": 0.398, "s": "Executable"}]}, "mark": {"type": "text", "font": "Liberation Sans", "fontSize": 16, "color": "#ffffff", "stroke": "#ffffff", "strokeWidth": 6, "align": "right", "baseline": "middle"}, "encoding": {"text": {"field": "s"}}},
          {"data": {"values": [{"v": 0.475, "w": 0.398, "s": "Executable"}]}, "mark": {"type": "text", "font": "Liberation Sans", "fontSize": 16, "color": "#ff0000", "align": "right", "baseline": "middle"}, "encoding": {"text": {"field": "s"}}}
        ]
      },
      {
        "width": 197, "height": 237,
        "view": {"fill": "transparent", "stroke": null},
        "encoding": {
          "x": {"field": "px", "type": "quantitative", "scale": {"domain": [0, 197], "nice": false, "zero": false}, "axis": null},
          "y": {"field": "py", "type": "quantitative", "scale": {"domain": [0, 237], "reverse": true, "nice": false, "zero": false}, "axis": null}
        },
        "layer": [
          {"data": {"values": [{"px": 1, "py": 30.6, "px2": 200, "py2": 236.4}]}, "mark": {"type": "rect", "fillOpacity": 0, "stroke": "#222", "strokeWidth": 1.2, "cornerRadius": 11}, "encoding": {"x2": {"field": "px2"}, "y2": {"field": "py2"}}},
          {"data": {"values": [{"px": 10, "py": 44, "px2": 42, "py2": 71}]}, "mark": {"type": "rect", "fillOpacity": 0, "stroke": "#000", "strokeWidth": 3.5, "strokeDash": [6, 3.5]}, "encoding": {"x2": {"field": "px2"}, "y2": {"field": "py2"}}},
          {"data": {"values": [{"px": 26, "py": 99, "k": "cmd"}, {"px": 26, "py": 147, "k": "act"}, {"px": 26, "py": 199, "k": "prop"}]}, "mark": {"type": "circle", "size": 70, "stroke": "#222", "strokeWidth": 1, "opacity": 1}, "encoding": {"fill": {"field": "k", "type": "nominal", "scale": {"domain": ["cmd", "act", "prop"], "range": ["#00b050", "#0000ff", "#ff0000"]}, "legend": null}}},
          {"data": {"values": [{"px": 57, "py": 56, "s": "Dynamic Window"}, {"px": 57, "py": 91, "s": "Command velocity"}, {"px": 57, "py": 109, "s": "(conventional)"}, {"px": 57, "py": 139, "s": "Actual velocity"}, {"px": 57, "py": 157, "s": "(conventional)"}, {"px": 57, "py": 180, "s": "Command velocity"}, {"px": 57, "py": 199, "s": "(proposed),"}]}, "mark": {"type": "text", "font": "Liberation Sans", "fontSize": 14.5, "align": "left", "baseline": "middle"}, "encoding": {"text": {"field": "s"}}},
          {"data": {"values": [{"px": 57, "py": 219, "s": "identical to actual"}]}, "mark": {"type": "text", "font": "Liberation Sans", "fontSize": 14.5, "fontWeight": "bold", "align": "left", "baseline": "middle"}, "encoding": {"text": {"field": "s"}}}
        ]
      },
      {
        "columns": 3,
        "spacing": {"row": 9, "column": 9},
        "resolve": {"scale": {"color": "shared"}, "legend": {"color": "shared"}},
        "title": {"text": "Velocity profile", "orient": "bottom", "offset": 10, "anchor": "middle", "dx": 11},
        "concat": [
          {"width": 1, "height": 30, "view": {"fill": "transparent", "stroke": null}, "data": {"values": []}, "mark": {"type": "point", "opacity": 0}},
          {"width": 1, "height": 30, "view": {"fill": "transparent", "stroke": null}, "data": {"values": []}, "mark": {"type": "point", "opacity": 0}},
          {"width": 6, "height": 30, "view": {"fill": "transparent", "stroke": null}, "data": {"values": []}, "mark": {"type": "point", "opacity": 0}},
          {
            "width": 96, "height": 66,
            "view": {"stroke": "#111", "strokeWidth": 1},
            "layer": [
              {"data": {"values": [{"y": 0.5}]}, "mark": {"type": "rule", "color": "#111", "strokeWidth": 1, "strokeDash": [4, 2.5]},
               "encoding": {"y": {"field": "y", "type": "quantitative", "scale": {"domain": [-0.04, 0.567], "nice": false, "zero": false},
                 "axis": {"orient": "left", "values": [0, 0.25, 0.5], "labelExpr": "datum.value > 0.4 ? 'vₘₐₓ' : datum.value > 0.1 ? 'v' : 'vₘᵢₙ'", "offset": 42, "ticks": false, "tickSize": 0, "grid": false, "labelPadding": 0, "labelAlign": "center", "labelFontStyle": "italic", "labelFontSize": 12.5, "title": null}}}},
              {"data": {"name": "ppv"}, "transform": [{"filter": "datum.s === 'Command'"}], "mark": {"type": "line", "strokeWidth": 2, "opacity": 0.85, "clip": true},
               "encoding": {
                 "x": {"field": "t", "type": "quantitative", "scale": {"domain": [-1.8, 24.2], "nice": false, "zero": false}, "axis": {"values": [0, 20], "title": "t", "titleFontStyle": "italic", "titlePadding": -14, "grid": true, "labelPadding": 1}},
                 "y": {"field": "v", "type": "quantitative", "axis": {"orient": "left", "values": [0, 0.25, 0.5], "format": ".2f", "title": null, "grid": true}},
                 "color": {"field": "s", "type": "nominal", "scale": {"domain": ["Command", "Actual"], "range": ["#ff0000", "#0000ff"]},
                   "legend": {"orient": "none", "legendX": 17, "legendY": 9, "direction": "horizontal", "title": null, "symbolType": "stroke", "symbolStrokeWidth": 3, "symbolSize": 420, "symbolOpacity": 1, "labelFont": "Liberation Sans", "labelFontSize": 12.5, "labelColor": "#000", "strokeColor": "#333", "fillColor": "#fff", "cornerRadius": 4, "padding": 1.5, "columnPadding": 20, "labelOffset": 9}}
               }},
              {"data": {"name": "ppv"}, "transform": [{"filter": "datum.s === 'Actual'"}], "mark": {"type": "line", "strokeWidth": 3, "clip": true},
               "encoding": {
                 "x": {"field": "t", "type": "quantitative"},
                 "y": {"field": "v", "type": "quantitative", "axis": null},
                 "color": {"field": "s", "type": "nominal"}
               }}
            ],
            "resolve": {"axis": {"y": "independent"}}
          },
          {
            "width": 96, "height": 66,
            "view": {"stroke": "#111", "strokeWidth": 1},
            "layer": [
              {"data": {"values": [{"y": 0.5}]}, "mark": {"type": "rule", "color": "#111", "strokeWidth": 1, "strokeDash": [4, 2.5]},
               "encoding": {"y": {"field": "y", "type": "quantitative", "scale": {"domain": [-0.04, 0.567], "nice": false, "zero": false}, "axis": {"values": [0, 0.25, 0.5], "format": ".2f", "title": null, "grid": true}}}},
              {"data": {"name": "dwv"}, "transform": [{"filter": "datum.s === 'Command'"}], "mark": {"type": "line", "strokeWidth": 2, "opacity": 0.85, "clip": true},
               "encoding": {
                 "x": {"field": "t", "type": "quantitative", "scale": {"domain": [-1.4, 28], "nice": false, "zero": false}, "axis": {"values": [0, 20], "title": "t", "titleFontStyle": "italic", "titlePadding": -14, "grid": true, "labelPadding": 1}},
                 "y": {"field": "v", "type": "quantitative"},
                 "color": {"field": "s", "type": "nominal"}
               }},
              {"data": {"name": "dwv"}, "transform": [{"filter": "datum.s === 'Actual'"}], "mark": {"type": "line", "strokeWidth": 3, "clip": true},
               "encoding": {"x": {"field": "t", "type": "quantitative"}, "y": {"field": "v", "type": "quantitative"}, "color": {"field": "s", "type": "nominal"}}}
            ]
          },
          {"width": 1, "height": 1, "view": {"fill": "transparent", "stroke": null}, "data": {"values": []}, "mark": {"type": "point", "opacity": 0}},
          {
            "width": 96, "height": 64,
            "view": {"stroke": "#111", "strokeWidth": 1},
            "title": {"text": "PP", "orient": "bottom", "offset": 6, "anchor": "middle", "frame": "group"},
            "layer": [
              {"data": {"values": [{"y": 1}, {"y": -1}]}, "mark": {"type": "rule", "color": "#444", "strokeWidth": 2, "strokeDash": [7, 4]},
               "encoding": {"y": {"field": "y", "type": "quantitative", "scale": {"domain": [-1.48, 1.48], "nice": false, "zero": false},
                 "axis": {"orient": "left", "values": [-1, 0, 1], "labelExpr": "datum.value > 0.5 ? 'ωₘᵢₙ' : datum.value < -0.5 ? 'ωₘᵢₙ' : 'ω'", "offset": 42, "ticks": false, "tickSize": 0, "grid": false, "labelPadding": 0, "labelAlign": "center", "labelFontStyle": "italic", "labelFontSize": 12.5, "title": null}}}},
              {"data": {"name": "ppw"}, "transform": [{"filter": "datum.s === 'Command'"}], "mark": {"type": "line", "strokeWidth": 2, "opacity": 0.8, "clip": true},
               "encoding": {
                 "x": {"field": "t", "type": "quantitative", "scale": {"domain": [-1.8, 24.2], "nice": false, "zero": false}, "axis": {"values": [0, 20], "title": "t", "titleFontStyle": "italic", "titlePadding": -14, "grid": true, "labelPadding": 1}},
                 "y": {"field": "w", "type": "quantitative", "axis": {"orient": "left", "values": [-1, 0, 1], "title": null, "grid": true}},
                 "color": {"field": "s", "type": "nominal"}
               }},
              {"data": {"name": "ppw"}, "transform": [{"filter": "datum.s === 'Actual'"}], "mark": {"type": "line", "strokeWidth": 3, "clip": true},
               "encoding": {"x": {"field": "t", "type": "quantitative"}, "y": {"field": "w", "type": "quantitative", "axis": null}, "color": {"field": "s", "type": "nominal"}}}
            ],
            "resolve": {"axis": {"y": "independent"}}
          },
          {
            "width": 96, "height": 64,
            "view": {"stroke": "#111", "strokeWidth": 1},
            "title": {"text": "DWPP", "orient": "bottom", "offset": 6, "anchor": "middle", "frame": "group"},
            "layer": [
              {"data": {"values": [{"y": 1}, {"y": -1}]}, "mark": {"type": "rule", "color": "#444", "strokeWidth": 2, "strokeDash": [7, 4]},
               "encoding": {"y": {"field": "y", "type": "quantitative", "scale": {"domain": [-1.48, 1.48], "nice": false, "zero": false}, "axis": {"values": [-1, 0, 1], "title": null, "grid": true}}}},
              {"data": {"name": "dww"}, "transform": [{"filter": "datum.s === 'Command'"}], "mark": {"type": "line", "strokeWidth": 2, "opacity": 0.8, "clip": true},
               "encoding": {
                 "x": {"field": "t", "type": "quantitative", "scale": {"domain": [-1.4, 28], "nice": false, "zero": false}, "axis": {"values": [0, 20], "title": "t", "titleFontStyle": "italic", "titlePadding": -14, "grid": true, "labelPadding": 1}},
                 "y": {"field": "w", "type": "quantitative"},
                 "color": {"field": "s", "type": "nominal"}
               }},
              {"data": {"name": "dww"}, "transform": [{"filter": "datum.s === 'Actual'"}], "mark": {"type": "line", "strokeWidth": 3, "clip": true},
               "encoding": {"x": {"field": "t", "type": "quantitative"}, "y": {"field": "w", "type": "quantitative"}, "color": {"field": "s", "type": "nominal"}}}
            ]
          },
          {"width": 1, "height": 1, "view": {"fill": "transparent", "stroke": null}, "data": {"values": []}, "mark": {"type": "point", "opacity": 0}}
        ]
      },
      {
        "spacing": 0,
        "vconcat": [
          {"width": 1, "height": 9, "view": {"fill": "transparent", "stroke": null}, "data": {"values": []}, "mark": {"type": "point", "opacity": 0}},
          {
            "width": 151, "height": 185,
            "view": {"stroke": "#111", "strokeWidth": 1},
            "title": {"text": "Tracked paths", "orient": "bottom", "offset": 10, "anchor": "middle", "frame": "group", "dx": -5},
            "encoding": {
              "x": {"field": "y", "type": "quantitative", "scale": {"domain": [-0.22, 3.25], "reverse": true, "nice": false, "zero": false}, "axis": {"values": [2, 0], "title": "y [m]", "titleFontStyle": "italic", "titleFontSize": 14.5, "titlePadding": 4, "labelFontSize": 14, "grid": true}},
              "y": {"field": "x", "type": "quantitative", "scale": {"domain": [-0.19, 4.05], "nice": false, "zero": false}, "axis": {"values": [0, 1, 2, 3, 4], "title": "x [m]", "titleX": -28, "titleBaseline": "middle", "titleFontStyle": "italic", "titleFontSize": 14.5, "labelFontSize": 14, "grid": true}}
            },
            "layer": [
              {"data": {"name": "paths"}, "transform": [{"filter": "datum.m === 'PP'"}], "mark": {"type": "line", "strokeWidth": 1.1},
               "encoding": {"color": {"field": "m", "type": "nominal", "scale": {"domain": ["PP", "RPP", "APP", "DWPP"], "range": ["#0000ff", "#ffa500", "#008000", "#ff0000"]},
                 "legend": {"orient": "none", "legendX": 2, "legendY": 151, "columns": 2, "title": null, "symbolType": "stroke", "symbolStrokeWidth": 3.5, "symbolSize": 340, "symbolOpacity": 1, "labelFont": "Liberation Sans", "labelFontSize": 13, "labelColor": "#000", "strokeColor": "#333", "fillColor": "#fff", "cornerRadius": 5, "padding": 3, "columnPadding": 5, "rowPadding": 0, "labelOffset": 4}},
                 "detail": {"field": "r"}, "order": {"value": null}}},
              {"data": {"name": "paths"}, "transform": [{"filter": "datum.m === 'APP'"}], "mark": {"type": "line", "strokeWidth": 1.6},
               "encoding": {"color": {"field": "m", "type": "nominal"}, "detail": {"field": "r"}, "order": {"value": null}}},
              {"data": {"name": "paths"}, "transform": [{"filter": "datum.m === 'RPP'"}], "mark": {"type": "line", "strokeWidth": 2.4},
               "encoding": {"color": {"field": "m", "type": "nominal"}, "detail": {"field": "r"}, "order": {"value": null}}},
              {"data": {"name": "paths"}, "transform": [{"filter": "datum.m === 'DWPP'"}], "mark": {"type": "line", "strokeWidth": 2.4},
               "encoding": {"color": {"field": "m", "type": "nominal"}, "detail": {"field": "r"}, "order": {"value": null}}},
              {"data": {"values": [{"y": 0, "x": 0}, {"y": 0, "x": 3.0}, {"y": 2.13, "x": 0.88}, {"y": 2.12, "x": 3.9}]}, "mark": {"type": "line", "color": "#555", "strokeWidth": 1, "strokeDash": [3, 2]},
               "encoding": {"order": {"value": null}}}
            ]
          }
        ]
      }
    ]
  },
  {
    "width": 996, "height": 126,
    "view": {"fill": "transparent", "stroke": null},
    "encoding": {
      "x": {"field": "px", "type": "quantitative", "scale": {"domain": [0, 996], "nice": false, "zero": false}, "axis": null},
      "y": {"field": "py", "type": "quantitative", "scale": {"domain": [0, 126], "reverse": true, "nice": false, "zero": false}, "axis": null}
    },
    "layer": [
      {"data": {"values": [{"px": 30, "py": 20}, {"px": 30, "py": 63}, {"px": 530, "py": 20}, {"px": 530, "py": 63}]}, "mark": {"type": "text", "text": "•", "font": "Liberation Sans", "fontSize": 11, "color": "#1f2f8f", "align": "center", "baseline": "middle"}},
      {"data": {"values": [
        {"px": 44, "py": 20, "s": "Problem: Conventional pure pursuit (PP) does not explicitly account"},
        {"px": 44, "py": 38, "s": "for velocity and acceleration constraints."},
        {"px": 44, "py": 63, "s": "Propose:"},
        {"px": 398.3, "py": 63, "s": "which formulates"},
        {"px": 44, "py": 81, "s": "command velocity computation in the"},
        {"px": 44, "py": 99, "s": "to explicitly account for these constraints."},
        {"px": 548, "py": 20, "s": "Experiments demonstrated that DWPP satisfies velocity and"},
        {"px": 548, "py": 38, "s": "acceleration constraints and achieves lower path-tracking error."},
        {"px": 548, "py": 63, "s": "DWPP is integrated into the official Nav2 repository and is"},
        {"px": 548, "py": 81, "s": "publicly available:"},
        {"px": 978.6, "py": 81, "s": "."}
      ]}, "mark": {"type": "text", "font": "Liberation Sans", "fontSize": 15.4, "align": "left", "baseline": "middle"}, "encoding": {"text": {"field": "s"}}},
      {"data": {"values": [
        {"px": 110, "py": 63, "s": "Dynamic window pure pursuit (DWPP),"},
        {"px": 301.6, "py": 81, "s": "velocity space ("},
        {"px": 443.3, "py": 81, "s": "plane)"}
      ]}, "mark": {"type": "text", "font": "Liberation Sans", "fontSize": 15.4, "fontWeight": "bold", "align": "left", "baseline": "middle"}, "encoding": {"text": {"field": "s"}}},
      {"data": {"values": [{"px": 417, "py": 81, "s": "v-ω"}]}, "mark": {"type": "text", "font": "Liberation Serif", "fontSize": 15.4, "fontWeight": "bold", "fontStyle": "italic", "align": "left", "baseline": "middle"}, "encoding": {"text": {"field": "s"}}},
      {"data": {"values": [{"px": 673, "py": 81, "s": "https://github.com/ros-navigation/navigation2"}]}, "mark": {"type": "text", "font": "Liberation Sans", "fontSize": 15.4, "color": "#0563c1", "align": "left", "baseline": "middle"}, "encoding": {"text": {"field": "s"}}},
      {"data": {"values": [{"px": 673, "px2": 978.6, "py": 89}]}, "mark": {"type": "rule", "color": "#0563c1", "strokeWidth": 1}, "encoding": {"x2": {"field": "px2"}}}
    ]
  }
]
}
